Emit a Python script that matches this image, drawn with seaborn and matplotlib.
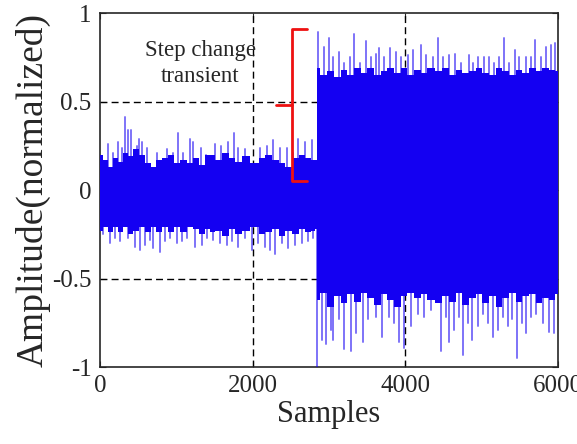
import numpy as np
import pandas as pd
import matplotlib
matplotlib.use("Agg")
import matplotlib.pyplot as plt
import seaborn as sns

# values
n_samples = 6000
step_at = 2840

# edge of the dense part of the signal, before the step
pre_edge_x = [0, 66, 131, 197, 263, 328, 394, 460, 551, 630, 696, 762, 853, 919, 1011, 1090,
              1182, 1247, 1339, 1405, 1470, 1549, 1641, 1733, 1812, 1904, 2035, 2127, 2206,
              2298, 2390, 2468, 2560, 2652, 2731, 2797, 2840]
pre_edge_top = [0.20, 0.17, 0.13, 0.18, 0.16, 0.21, 0.19, 0.23, 0.20, 0.15, 0.13, 0.17, 0.18,
                0.20, 0.15, 0.17, 0.15, 0.18, 0.14, 0.20, 0.20, 0.17, 0.21, 0.18, 0.16, 0.19,
                0.15, 0.18, 0.20, 0.17, 0.15, 0.13, 0.18, 0.20, 0.18, 0.17, 0.17]
pre_edge_bot = [-0.23, -0.21, -0.24, -0.21, -0.24, -0.21, -0.25, -0.23, -0.21, -0.24, -0.21,
                -0.24, -0.21, -0.24, -0.21, -0.24, -0.21, -0.22, -0.25, -0.22, -0.24, -0.23,
                -0.26, -0.22, -0.25, -0.23, -0.21, -0.25, -0.24, -0.22, -0.26, -0.23, -0.25,
                -0.22, -0.24, -0.23, -0.22]

# edge of the dense part of the signal, after the step
post_edge_x = [2840, 2928, 3020, 3112, 3191, 3283, 3374, 3453, 3545, 3637, 3716, 3808, 3900,
               3978, 4070, 4162, 4241, 4333, 4438, 4530, 4622, 4701, 4792, 4884, 4963, 5055,
               5147, 5226, 5318, 5410, 5488, 5580, 5672, 5751, 5843, 5935, 6000]
post_edge_top = [0.69, 0.65, 0.67, 0.64, 0.68, 0.65, 0.69, 0.66, 0.69, 0.65, 0.67, 0.69, 0.66,
                 0.69, 0.65, 0.68, 0.66, 0.69, 0.67, 0.69, 0.65, 0.68, 0.66, 0.67, 0.69, 0.66,
                 0.65, 0.69, 0.67, 0.65, 0.68, 0.66, 0.69, 0.67, 0.69, 0.68, 0.67]
post_edge_bot = [-0.62, -0.58, -0.66, -0.60, -0.64, -0.59, -0.63, -0.58, -0.61, -0.65, -0.59,
                 -0.62, -0.66, -0.60, -0.58, -0.61, -0.59, -0.62, -0.64, -0.60, -0.63, -0.58,
                 -0.65, -0.61, -0.59, -0.64, -0.60, -0.66, -0.61, -0.58, -0.63, -0.60, -0.59,
                 -0.64, -0.61, -0.62, -0.59]

# spikes sticking out of the dense part: sample positions and tip amplitudes
pre_up_x = [101, 171, 236, 289, 328, 368, 407, 486, 512, 551, 617, 748, 879, 958,
            1024, 1090, 1182, 1221, 1326, 1392, 1510, 1589, 1681, 1759, 1812, 1904,
            2101, 2193, 2271, 2363, 2455, 2534, 2600, 2692, 2784]
pre_up_y = [0.26, 0.21, 0.27, 0.24, 0.41, 0.34, 0.34, 0.25, 0.29, 0.27, 0.24, 0.21, 0.23, 0.21,
            0.32, 0.21, 0.29, 0.27, 0.24, 0.20, 0.26, 0.25, 0.27, 0.32, 0.24, 0.23,
            0.24, 0.25, 0.28, 0.24, 0.24, 0.21, 0.29, 0.27, 0.28]

pre_lo_x = [39, 131, 197, 263, 368, 460, 525, 591, 657, 696, 788, 853, 919, 1011,
            1077, 1142, 1247, 1339, 1405, 1484, 1576, 1668, 1733, 1812, 1904, 1996,
            2075, 2166, 2232, 2298, 2390, 2468, 2560, 2652, 2731, 2797]
pre_lo_y = [-0.25, -0.30, -0.27, -0.29, -0.27, -0.32, -0.34, -0.31, -0.28, -0.33, -0.35, -0.29, -0.27, -0.30,
            -0.29, -0.27, -0.32, -0.31, -0.27, -0.28, -0.30, -0.31, -0.29, -0.32, -0.27, -0.34,
            -0.30, -0.32, -0.34, -0.36, -0.30, -0.33, -0.31, -0.30, -0.29, -0.27]

post_up_x = [2862, 2941, 2994, 3059, 3125, 3191, 3269, 3322, 3401, 3479, 3545, 3611, 3650, 3716,
             3795, 3873, 3939, 4031, 4097, 4202, 4267, 4359, 4425, 4490, 4569, 4648, 4727, 4832,
             4884, 4950, 5029, 5094, 5160, 5226, 5291, 5357, 5436, 5488, 5580, 5646, 5698, 5777,
             5843, 5909, 5961]
post_up_y = [0.89, 0.81, 0.86, 0.75, 0.78, 0.72, 0.75, 0.88, 0.72, 0.84, 0.75, 0.77, 0.80, 0.75,
             0.80, 0.78, 0.75, 0.76, 0.79, 0.82, 0.76, 0.75, 0.86, 0.75, 0.76, 0.77, 0.72, 0.76,
             0.72, 0.75, 0.75, 0.75, 0.72, 0.75, 0.86, 0.72, 0.79, 0.75, 0.75, 0.75, 0.85, 0.75,
             0.81, 0.82, 0.83]

post_lo_x = [2849, 2915, 2967, 3020, 3059, 3125, 3191, 3283, 3348, 3440, 3506, 3611, 3690, 3782,
             3847, 3913, 3978, 4070, 4162, 4241, 4333, 4464, 4530, 4569, 4635, 4701, 4753, 4819,
             4871, 4950, 5016, 5081, 5147, 5213, 5278, 5344, 5396, 5462, 5528, 5580, 5646, 5711,
             5803, 5882, 5948]
post_lo_y = [-1.00, -0.85, -0.87, -0.79, -0.85, -0.73, -0.90, -0.91, -0.81, -0.86, -0.73, -0.72, -0.83, -0.72,
             -0.75, -0.86, -0.89, -0.77, -0.70, -0.72, -0.68, -0.91, -0.72, -0.86, -0.79, -0.72, -0.93, -0.75,
             -0.85, -0.77, -0.70, -0.75, -0.83, -0.79, -0.72, -0.77, -0.73, -0.95, -0.75, -0.81, -0.72, -0.70,
             -0.75, -0.80, -0.81]

x_ticks = [0, 2000, 4000, 6000]
y_ticks = [-1, -0.5, 0, 0.5, 1]
y_tick_labels = ["-1", "-0.5", "0", "0.5", "1"]

# bracket marking the transient (sample, amplitude)
bracket_x = 2521
bracket_hook_x = 2718
bracket_mid_x = 2311
bracket_top, bracket_mid, bracket_bottom = 0.91, 0.48, 0.05

sns.set_style("ticks")
plt.rcParams["font.family"] = ["Liberation Serif", "DejaVu Serif"]

fig = plt.figure(figsize=(5.77, 4.44), dpi=100)
ax = fig.add_axes([0.1733, 0.1734, 0.7937, 0.7973])

blue = "#1400f2"

# spikes as little vertical traces, one unit per spike
rows = []
k = 0
for xs, ys in [(pre_up_x, pre_up_y), (pre_lo_x, pre_lo_y),
               (post_up_x, post_up_y), (post_lo_x, post_lo_y)]:
    for xv, yv in zip(xs, ys):
        rows.append({"Samples": xv, "Amplitude": 0.0, "spike": k})
        rows.append({"Samples": xv, "Amplitude": yv, "spike": k})
        k += 1
spikes = pd.DataFrame(rows)
sns.lineplot(data=spikes, x="Samples", y="Amplitude", units="spike", estimator=None,
             color=blue, alpha=0.55, linewidth=1.4, ax=ax, zorder=3)

# dense part of the signal
ax.fill_between(pre_edge_x, pre_edge_bot, pre_edge_top, step="mid",
                color=blue, linewidth=0, zorder=4)
ax.fill_between(post_edge_x, post_edge_bot, post_edge_top, step="mid",
                color=blue, linewidth=0, zorder=4)

# dashed grid
for gx in [2000, 4000]:
    ax.axvline(gx, color="black", linestyle=(0, (5, 3)), linewidth=1.0, zorder=1)
for gy in [-0.5, 0.5]:
    ax.axhline(gy, color="black", linestyle=(0, (5, 3)), linewidth=1.0, zorder=1)

# red bracket
red = "#ee1111"
ax.plot([bracket_hook_x, bracket_x, bracket_x, bracket_hook_x],
        [bracket_top, bracket_top, bracket_bottom, bracket_bottom], color=red, linewidth=2, zorder=5)
ax.plot([bracket_mid_x, bracket_x], [bracket_mid, bracket_mid], color=red, linewidth=2, zorder=5)
ax.text(1313, 0.715, "Step change\ntransient", ha="center", va="center", fontsize=16.5,
        linespacing=1.3, zorder=6)

ax.set_xlim(0, n_samples)
ax.set_ylim(-1, 1)
ax.set_xticks(x_ticks)
ax.set_yticks(y_ticks)
ax.set_yticklabels(y_tick_labels)
ax.tick_params(direction="in", length=4, labelsize=18, top=True, right=True, pad=6)
ax.set_xlabel("Samples", fontsize=22, labelpad=2)
ax.set_ylabel("Amplitude(normalized)", fontsize=27, labelpad=1)
for s in ax.spines.values():
    s.set_linewidth(1.2)

fig.savefig("out.png", dpi=100)
